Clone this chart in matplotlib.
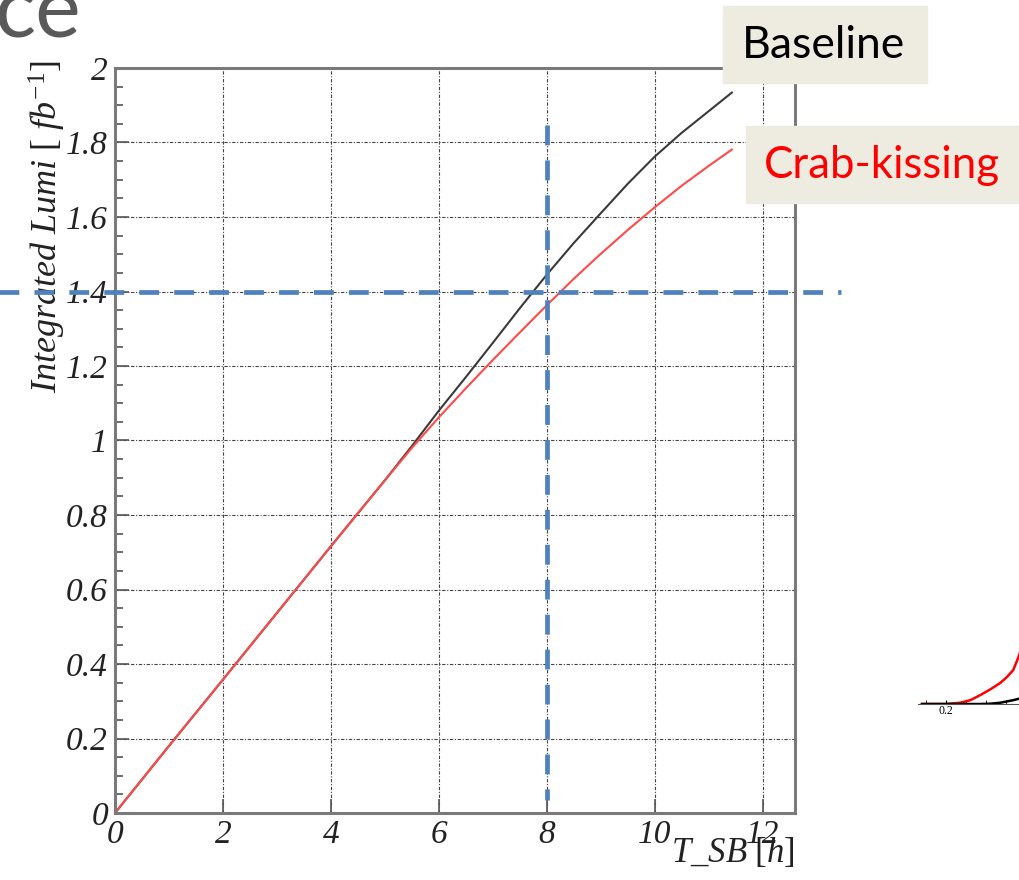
import numpy as np
import matplotlib.pyplot as plt
from matplotlib.patches import Rectangle
from matplotlib.ticker import MultipleLocator

plt.rcParams['mathtext.fontset'] = 'custom'
plt.rcParams['mathtext.it'] = 'Liberation Serif:italic'
plt.rcParams['mathtext.rm'] = 'Liberation Serif'

# integrated luminosity vs stable beam time
t_base = [0, 1, 2, 3, 4, 5, 5.5, 6, 6.5, 7, 7.5, 8, 8.5, 9, 9.5, 10, 10.5, 11, 11.43]
lumi_base = [0, 0.18, 0.358, 0.537, 0.716, 0.893, 0.985, 1.08, 1.17, 1.262, 1.355,
             1.445, 1.53, 1.61, 1.689, 1.762, 1.826, 1.884, 1.934]
t_crab = [0, 1, 2, 3, 4, 5, 5.5, 6, 6.5, 7, 7.5, 8, 8.5, 9, 9.5, 10, 10.5, 11, 11.43]
lumi_crab = [0, 0.18, 0.358, 0.537, 0.716, 0.893, 0.98, 1.062, 1.14, 1.216, 1.29,
             1.363, 1.434, 1.501, 1.565, 1.626, 1.684, 1.737, 1.781]

x_ticks = [0, 2, 4, 6, 8, 10, 12]
y_ticks = [0, 0.2, 0.4, 0.6, 0.8, 1, 1.2, 1.4, 1.6, 1.8, 2]
y_tick_labels = ['0', '0.2', '0.4', '0.6', '0.8', '1', '1.2', '1.4', '1.6', '1.8', '2']

target_t = 8
target_lumi = 1.4

# fragment of a neighbouring plot at the right edge
frag_x = [0.14, 0.2, 0.236, 0.261, 0.286, 0.311, 0.336, 0.352, 0.368, 0.381, 0.39]
frag_red = [0, 0, 0.02, 0.06, 0.14, 0.23, 0.33, 0.42, 0.53, 0.73, 0.9]
frag_black = [0, 0, 0, 0, 0, 0.005, 0.02, 0.04, 0.06, 0.08, 0.1]

fig = plt.figure(figsize=(10.19, 8.8), dpi=100)
ax = fig.add_axes([115/1019, 1-813/880, 680/1019, 745/880])

ax.plot(t_base, lumi_base, color='#3a3a3a', lw=1.5)
ax.plot(t_crab, lumi_crab, color='#ff4a4a', lw=1.5)

ax.set_xlim(0, 12.6)
ax.set_ylim(0, 2)
ax.set_xticks(x_ticks)
ax.set_yticks(y_ticks)
ax.set_yticklabels(y_tick_labels)
ax.yaxis.set_minor_locator(MultipleLocator(0.05))
ax.grid(True, which='major', color='#444444', lw=0.8, linestyle=(0, (3, 1.5, 1, 1.5)))
ax.tick_params(which='both', direction='in', color='#555555', top=False, right=False)
ax.tick_params(which='major', length=10, width=1.2, pad=5)
ax.tick_params(which='minor', length=6, width=1.2)
ax.tick_params(axis='x', which='minor', bottom=False)
for lab in ax.get_xticklabels() + ax.get_yticklabels():
    lab.set_fontfamily('Liberation Serif')
    lab.set_fontstyle('italic')
    lab.set_fontsize(24)
    lab.set_color('#222222')
for s in ax.spines.values():
    s.set_color('#7a7a7a')
    s.set_linewidth(2.2)

ax.text(-0.1, 1.01, r'$Integrated\ Lumi\ [\ fb^{-1}]$', transform=ax.transAxes,
        rotation=90, ha='center', va='top', fontsize=26, color='#222222')
ax.text(1.0, -0.052, r'$T\_SB\ [h]$', transform=ax.transAxes,
        ha='right', va='center', fontsize=25, color='#222222')

# blue dashed guide lines
blue = '#4f81bd'
ax.plot([-2.2, 13.46], [target_lumi, target_lumi], color=blue, lw=3.4,
        dashes=(4.2, 3.2), clip_on=False, zorder=5)
ax.plot([target_t, target_t], [1.846, 0.035], color=blue, lw=3.4,
        dashes=(4.2, 3.2), clip_on=False, zorder=5)

# slide title fragment
fig.text(-0.006, 1-37/880, 'ce', fontsize=62, color='#595959', family='Lato',
         ha='left', va='baseline')

# label boxes
fig.patches.append(Rectangle((723/1019, 1-83/880), 204/1019, 77/880,
                             transform=fig.transFigure, color='#eeece1', zorder=6))
fig.text(824/1019, 1-45/880, 'Baseline', fontsize=32, color='black', family='Lato',
         ha='center', va='center', zorder=7)
fig.patches.append(Rectangle((746/1019, 1-203/880), 280/1019, 77/880,
                             transform=fig.transFigure, color='#eeece1', zorder=6))
fig.text(882/1019, 1-165/880, 'Crab-kissing', fontsize=31.5, color='#ff0000',
         family='Lato', ha='center', va='center', zorder=7)

# small cut-off plot at the right edge
ax2 = fig.add_axes([918/1019, 1-704/880, 120/1019, 64/880])
ax2.plot(frag_x, frag_red, color='red', lw=1.8)
ax2.plot(frag_x, frag_black, color='black', lw=1.8)
ax2.set_xlim(0.13, 0.43)
ax2.set_ylim(0, 1)
for k in ['top', 'right', 'left']:
    ax2.spines[k].set_visible(False)
ax2.spines['bottom'].set_color('#555555')
ax2.set_yticks([])
ax2.set_xticks([0.2])
ax2.set_xticklabels(['0.2'])
ax2.xaxis.set_minor_locator(MultipleLocator(0.05))
ax2.tick_params(axis='x', which='both', direction='in', length=3, pad=1,
                labelsize=8.5)
for lab in ax2.get_xticklabels():
    lab.set_fontfamily('Liberation Serif')
ax2.patch.set_alpha(0)

fig.savefig('out.png', dpi=100)
